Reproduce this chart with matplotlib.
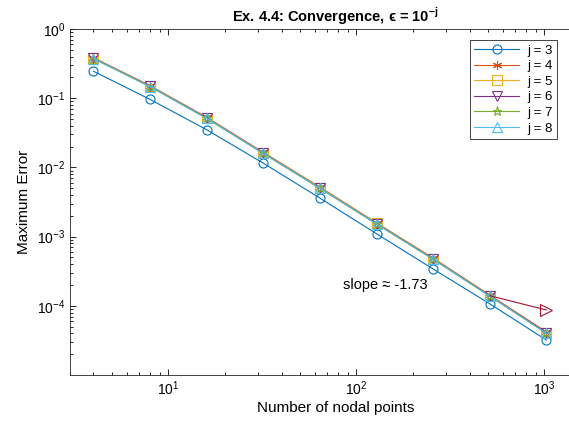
import matplotlib
matplotlib.use("Agg")
import matplotlib.pyplot as plt

plt.rcParams["font.family"] = ["Liberation Sans", "DejaVu Sans"]
plt.rcParams["mathtext.fontset"] = "custom"
plt.rcParams["mathtext.rm"] = "Liberation Sans"
plt.rcParams["mathtext.bf"] = "Liberation Sans:bold"

# nodal points
N = [4, 8, 16, 32, 64, 128, 256, 512, 1024]

# maximum error per j
err_j3 = [0.245, 0.096, 0.035, 0.0115, 0.0036, 0.0011, 0.00034, 0.000107, 0.000032]
err_j4 = [0.385, 0.152, 0.053, 0.0165, 0.0052, 0.00158, 0.00049, 0.000143, 0.000042]
err_j5 = [0.378, 0.149, 0.052, 0.0162, 0.0051, 0.00155, 0.00048, 0.000140, 0.000041]
err_j6 = [0.375, 0.148, 0.0515, 0.0160, 0.0050, 0.00153, 0.000475, 0.000139, 0.000041]
err_j7 = [0.374, 0.147, 0.051, 0.0159, 0.0050, 0.00152, 0.000472, 0.000138, 0.000040]
err_j8 = [0.373, 0.147, 0.051, 0.0159, 0.0050, 0.00152, 0.000470, 0.000138, 0.000040]

labels = ["j = 3", "j = 4", "j = 5", "j = 6", "j = 7", "j = 8"]
yticks = [1e-4, 1e-3, 1e-2, 1e-1, 1e0]

# slope indicator
slope_x = [512, 1024]
slope_y = [0.000140, 0.000087]
slope_text = "slope \u2248 -1.73"

colors = ["#0072BD", "#D95319", "#EDB120", "#7E2F8E", "#77AC30", "#4DBEEE"]
markers = ["o", (6, 2, 0), "s", "v", "*", "^"]

fig = plt.figure(figsize=(5.69, 4.26), dpi=100)
ax = fig.add_axes([70 / 569, 51 / 426, 531 / 569, 346 / 426])

for y, lab, c, m in zip([err_j3, err_j4, err_j5, err_j6, err_j7, err_j8],
                        labels, colors, markers):
    ax.loglog(N, y, color=c, marker=m, markersize=6.5, fillstyle="none",
              markeredgewidth=0.8, linewidth=0.8, label=lab)

ax.plot(slope_x, slope_y, color="#A2142F", linewidth=0.8, marker=">",
        markevery=[1], markersize=8, fillstyle="none", markeredgewidth=0.8)
ax.text(85, 2.0e-4, slope_text, fontsize=10.5, ha="left", va="center")

ax.set_xlim(3, 2000)
ax.set_ylim(1e-5, 1)
ax.set_yticks(yticks)
ax.tick_params(which="both", direction="in", top=True, right=True,
               labelsize=10, width=0.6)
ax.tick_params(which="major", length=4)
ax.tick_params(which="minor", length=2.5)
for s in ax.spines.values():
    s.set_linewidth(0.6)
    s.set_color("#262626")

ax.set_xlabel("Number of nodal points", fontsize=11, labelpad=2)
ax.set_ylabel("Maximum Error", fontsize=11, labelpad=4)
ax.set_title("Ex. 4.4: Convergence, $\\mathregular{\u03f5}$ = 10$^{\\mathbf{-j}}$",
             fontsize=10.5, fontweight="bold", pad=5)

leg = ax.legend(loc="upper right", bbox_to_anchor=(557 / 569, 1 - 40 / 426),
                bbox_transform=fig.transFigure, borderaxespad=0,
                fontsize=9.5, fancybox=False, framealpha=1,
                edgecolor="#262626", handlelength=3.4, handletextpad=0.6,
                borderpad=0.35, labelspacing=0.25)
leg.get_frame().set_linewidth(0.6)

fig.savefig("out.png", dpi=100)
